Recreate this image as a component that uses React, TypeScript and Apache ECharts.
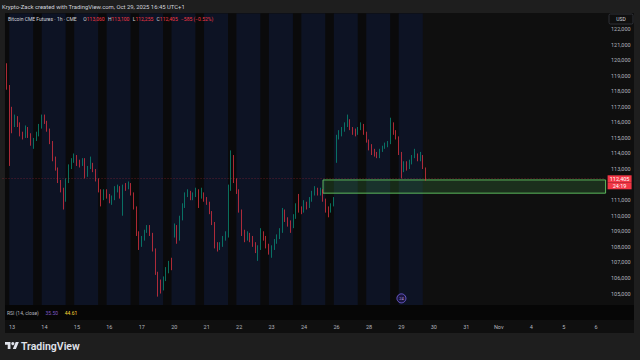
import React, { useEffect, useRef } from 'react';
import * as echarts from 'echarts';

// ---------- data ----------
const dayLabels = ['13', '14', '15', '16', '17', '20', '21', '22', '23', '24', '26', '28', '29', '30', '31', 'Nov', '4', '5', '6'];
const LEAD_BARS = 3; // bars before the first day label
const BARS_PER_DAY = 12; // 2-hour bars
const TOTAL_BARS = 223;
const FIRST_BAR = 1;

// [open, close, low, high]
const candles: number[][] = [
  [119600, 118300, 118100, 119800], [118300, 116800, 113200, 118400], [116800, 115800, 115300, 117000], [115800, 116200, 115700, 116500],
  [116200, 115900, 115700, 116400], [115900, 115300, 115100, 116000], [115300, 115100, 114900, 115400], [115100, 115600, 115000, 115800],
  [115600, 115200, 115000, 115700], [115200, 114700, 114500, 115300], [114700, 114900, 114300, 115000], [114900, 115200, 114800, 115400],
  [115200, 115700, 115100, 115900], [115700, 116300, 115600, 116500], [116300, 116000, 115900, 116500], [116000, 115500, 115400, 116100],
  [115500, 114700, 114600, 115600], [114700, 113700, 113500, 114800], [113700, 113000, 112900, 113800], [113000, 112200, 112100, 113100],
  [112200, 111700, 111500, 112300], [111700, 111100, 110400, 111800], [111100, 112200, 110900, 112400], [112200, 113100, 112100, 113300],
  [113100, 113500, 113000, 113700], [113500, 113800, 113400, 114000], [113800, 113400, 113200, 113900], [113400, 113300, 113100, 113600],
  [113300, 113600, 113200, 113700], [113600, 112600, 112400, 113700], [112600, 113100, 112500, 113200], [113100, 113300, 113000, 113800],
  [113300, 112900, 112800, 113400], [112900, 112300, 112200, 113000], [112300, 111600, 111500, 112400], [111600, 111100, 110600, 111700],
  [111100, 111500, 111000, 111700], [111500, 111300, 111100, 111700], [111300, 111000, 110800, 111400], [111000, 111100, 110700, 111300],
  [111100, 111700, 111000, 111900], [111700, 111800, 111500, 112000], [111800, 111300, 111100, 111900], [111300, 111900, 110000, 112000],
  [111900, 111800, 111600, 112100], [111800, 112000, 111700, 112200], [112000, 111400, 111300, 112100], [111400, 110500, 110400, 111500],
  [110500, 108900, 108700, 110600], [108900, 108200, 107800, 109000], [108200, 108500, 108000, 108700], [108500, 109000, 108400, 109100],
  [109000, 109300, 108900, 109400], [109300, 108800, 108700, 109400], [108800, 107800, 107700, 108900], [107800, 106300, 106200, 107900],
  [106300, 105400, 104800, 106400], [105400, 105300, 105000, 105900], [105300, 105900, 105200, 106100], [105900, 106400, 105800, 106700],
  [106400, 106900, 106300, 107100], [106900, 106700, 106500, 107300], [108700, 109300, 108600, 109500], [109300, 108500, 108200, 109400],
  [108500, 109800, 108400, 110000], [109800, 110600, 109700, 110800], [110600, 111300, 110500, 111500], [111300, 111500, 111200, 111700],
  [111500, 111200, 111000, 111600], [111200, 111300, 111000, 111500], [111300, 111500, 111200, 111800], [111500, 111200, 110500, 111700],
  [111200, 111400, 111100, 111800], [111400, 111100, 110900, 111500], [111100, 110800, 110700, 111200], [110800, 110200, 110100, 110900],
  [110200, 109500, 109400, 110300], [109500, 108100, 107900, 109600], [108100, 107900, 107700, 108300], [107900, 108100, 107800, 108300],
  [108100, 108500, 108000, 108700], [108500, 108700, 108400, 109000], [108700, 111800, 108600, 112000], [111800, 113800, 111600, 114200],
  [113800, 112300, 112100, 113900], [112300, 111600, 111400, 112400], [111600, 110300, 110200, 111700], [110300, 108900, 108700, 110400],
  [108900, 108500, 108300, 109100], [108500, 108800, 108400, 109000], [108800, 108500, 108300, 108900], [108500, 108200, 108000, 108700],
  [108200, 107800, 107600, 108300], [107800, 107900, 107100, 108100], [107900, 108900, 107800, 109200], [108900, 108600, 108400, 109000],
  [108600, 108100, 107900, 108700], [108100, 107700, 107500, 108200], [107700, 107900, 107300, 108100], [107900, 108300, 107800, 108500],
  [108300, 108600, 108200, 108800], [108600, 109000, 108500, 109200], [109000, 110300, 108900, 110500], [110300, 109800, 109600, 110400],
  [109800, 109500, 109300, 109900], [109500, 109300, 108900, 109700], [109300, 109900, 109200, 110100], [109900, 110600, 109800, 110800],
  [110600, 110400, 110200, 111400], [110400, 110300, 110100, 110600], [110300, 110800, 110200, 111000], [110800, 110600, 110400, 110900],
  [110600, 111000, 110500, 111200], [111000, 111400, 110900, 111600], [111400, 111700, 111300, 111900], [111700, 111500, 111300, 111800],
  [111500, 111600, 111300, 111800], [111600, 111000, 110900, 111700], [111000, 110400, 110200, 111100], [110400, 110300, 109900, 110600],
  [110300, 110700, 110200, 110800], [110700, 111000, 110600, 111200], [113600, 115000, 113400, 115200], [115000, 115300, 114900, 115500],
  [115300, 115500, 115100, 115700], [115500, 115800, 115400, 116000], [115800, 116100, 115700, 116500], [116100, 115600, 115500, 116200],
  [115600, 115400, 115200, 115700], [115400, 115300, 115100, 115600], [115300, 115600, 115200, 115700], [115600, 115800, 115500, 116000],
  [115800, 115300, 115200, 115900], [115300, 114800, 114700, 115400], [114800, 114400, 114200, 114900], [114400, 114100, 113900, 114600],
  [114100, 114000, 113800, 114300], [114000, 113800, 113700, 114100], [113800, 114200, 113700, 114300], [114200, 114400, 114100, 114500],
  [114400, 114500, 114300, 114700], [114500, 114700, 114400, 114800], [114700, 115900, 114600, 116300], [115900, 115400, 115200, 116000],
  [115400, 115000, 114900, 115500], [115000, 114000, 113900, 115100], [114000, 112900, 112400, 114100], [112900, 113400, 112800, 113500],
  [113400, 113100, 112900, 113500], [113100, 113400, 113000, 113600], [113400, 113800, 113300, 113900], [113800, 113900, 113700, 114300],
  [113900, 113600, 113500, 114000], [113600, 113800, 113500, 114100], [113800, 113060, 113000, 113900], [113060, 112405, 112255, 113100],
];

const zoneHigh = 112300;
const zoneLow = 111450;
const zoneStartBar = 118.5;
const lastPrice = 112405;
const lastPriceText = '112,405';
const countdownText = '24:19';
const eventBar = 147;
const eventPrice = 104690;
const eventText = '24';
const yMin = 104000;
const yMax = 123000;
const yStep = 1000;
const hiddenTicks = [104000, 112000, 123000]; // hidden behind the pane edge / price tag
const ohlcKeys = ['O', 'H', 'L', 'C'];
const ohlcValues = ['113,060', '113,100', '112,255', '112,405'];
const changeText = '\u2212585 (\u22120.52%)';
const rsiValues = ['35.50', '44.61'];

// ---------- helpers ----------
const FONT = 'Roboto, "Noto Sans", sans-serif';
const NAVY = '#0d1324';
const STRIP = '#0a0a0b';
const UP = '#089981';
const DOWN = '#f23645';

let logoRegistered = false;
function registerLogo() {
  if (logoRegistered) return;
  logoRegistered = true;
  echarts.graphic.registerShape(
    'tvlogo',
    echarts.graphic.extendPath('M14 22H7V11H0V4h14v18zM28 22h-8l7.5-18h8L28 22z', {}) as any
  );
}

function isDayStart(i: number) {
  const d = i - LEAD_BARS;
  return d >= 0 && d % BARS_PER_DAY === 0 && d / BARS_PER_DAY < dayLabels.length;
}

function buildOption() {
  const categories = Array.from({ length: TOTAL_BARS }, (_, i) => 'b' + i);
  const seriesData: any[] = Array.from({ length: TOTAL_BARS }, () => '-');
  candles.forEach((c, i) => {
    seriesData[FIRST_BAR + i] = c;
  });
  const lastBar = FIRST_BAR + candles.length; // right edge of data (value axis)

  // session background bands
  const bands: any[] = [];
  const daysWithData = Math.floor((lastBar - LEAD_BARS) / BARS_PER_DAY) + 1;
  for (let k = 0; k < daysWithData; k++) {
    const start = LEAD_BARS + k * BARS_PER_DAY;
    const stripFrom = Math.max(0.9, start - 3.6);
    const stripTo = start - 0.5;
    bands.push([{ xAxis: stripFrom, itemStyle: { color: STRIP } }, { xAxis: stripTo }]);
    const navyTo = Math.min(lastBar + 0.4, start + BARS_PER_DAY - 3.6);
    bands.push([{ xAxis: stripTo, itemStyle: { color: NAVY } }, { xAxis: navyTo }]);
  }

  const legendText =
    '{t|Bitcoin CME Futures \u00b7 1h \u00b7 CME}  ' +
    ohlcKeys.map((k, i) => `{k|${k}}{v|${ohlcValues[i]}}`).join(' ') +
    ` {v|${changeText}}`;

  const logoScale = 0.39;

  return {
    animation: false,
    backgroundColor: '#1e1e1e',
    textStyle: { fontFamily: FONT },
    grid: { left: 2.54, right: 34.4, top: 13.44, bottom: 50.9, show: false },
    xAxis: [
      {
        type: 'category',
        data: categories,
        boundaryGap: true,
        axisLine: { show: false },
        axisTick: { show: false },
        splitLine: { show: false },
        axisLabel: {
          interval: (i: number) => isDayStart(i),
          formatter: (_v: string, i: number) => (isDayStart(i) ? dayLabels[(i - LEAD_BARS) / BARS_PER_DAY] : ''),
          color: '#b2b5be',
          fontSize: 5.5,
          margin: 15,
          fontFamily: FONT,
        },
      },
      { type: 'value', min: 0, max: TOTAL_BARS, show: false, gridIndex: 0 },
    ],
    yAxis: {
      type: 'value',
      position: 'right',
      min: yMin,
      max: yMax,
      interval: yStep,
      axisLine: { show: false },
      axisTick: { show: false },
      splitLine: { show: false },
      axisLabel: {
        color: '#b2b5be',
        fontSize: 5.5,
        align: 'right',
        margin: 25,
        fontFamily: FONT,
        formatter: (v: number) => (hiddenTicks.includes(v) ? '' : v.toLocaleString('en-US')),
      },
    },
    series: [
      {
        type: 'line',
        xAxisIndex: 1,
        yAxisIndex: 0,
        data: [],
        silent: true,
        markArea: { silent: true, data: bands },
      },
      {
        type: 'line',
        xAxisIndex: 1,
        yAxisIndex: 0,
        data: [],
        silent: true,
        markArea: {
          silent: true,
          z: 3,
          data: [
            [
              {
                xAxis: zoneStartBar,
                yAxis: zoneHigh,
                itemStyle: { color: 'rgba(76,175,80,0.2)', borderColor: '#5cb85c', borderWidth: 1 },
              },
              { xAxis: TOTAL_BARS, yAxis: zoneLow },
            ],
          ],
        },
      },
      {
        type: 'candlestick',
        xAxisIndex: 0,
        yAxisIndex: 0,
        data: seriesData,
        barWidth: 1.3,
        z: 4,
        itemStyle: { color: UP, color0: DOWN, borderColor: UP, borderColor0: DOWN, borderWidth: 0.7 },
        markLine: {
          silent: true,
          symbol: 'none',
          z: 6,
          lineStyle: { color: 'rgba(242,54,69,0.45)', type: [1, 2], width: 0.8 },
          label: {
            show: true,
            position: 'end',
            distance: 2,
            formatter: `{s| }\n{a|${lastPriceText}}\n{b|${countdownText}}`,
            rich: {
              s: { height: 8, lineHeight: 8, fontSize: 1 },
              a: { backgroundColor: DOWN, color: '#ffffff', width: 24, align: 'center', fontSize: 5.5, lineHeight: 7, height: 7, fontFamily: FONT },
              b: { backgroundColor: DOWN, color: '#ffffff', width: 24, align: 'center', fontSize: 5.5, lineHeight: 7, height: 7, fontFamily: FONT },
            },
          },
          data: [{ yAxis: lastPrice }],
        },
        markPoint: {
          silent: true,
          data: [
            {
              coord: [eventBar, eventPrice],
              symbol: 'circle',
              symbolSize: 9,
              itemStyle: { color: '#1c1640', borderColor: '#6a5acd', borderWidth: 1 },
              label: { show: true, position: 'inside', formatter: eventText, color: '#b39ddb', fontSize: 4, fontFamily: FONT },
            },
          ],
        },
      },
    ],
    graphic: [
      { type: 'rect', z: -10, silent: true, shape: { x: 5, y: 13, width: 629, height: 320 }, style: { fill: '#0f0f0f' } },
      { type: 'rect', z: 50, silent: true, shape: { x: 5, y: 305, width: 629, height: 15 }, style: { fill: '#060606' } },
      {
        type: 'text', z: 51, silent: true, x: 7, y: 312.5,
        style: {
          text: `{g|RSI (14, close)}  {p|${rsiValues[0]}}  {y|${rsiValues[1]}}`,
          verticalAlign: 'middle',
          rich: {
            g: { fill: '#b2b5be', fontSize: 5, fontFamily: FONT },
            p: { fill: '#7e57c2', fontSize: 5, fontFamily: FONT },
            y: { fill: '#fdd835', fontSize: 5, fontFamily: FONT },
          },
        },
      },
      {
        type: 'text', z: 51, silent: true, x: 2, y: 6.5,
        style: {
          text: 'Krypto-Zack created with TradingView.com, Oct 29, 2025 16:45 UTC+1',
          fill: '#d1d4dc', fontSize: 5.9, fontFamily: FONT, verticalAlign: 'middle',
        },
      },
      {
        type: 'text', z: 51, silent: true, x: 8, y: 19,
        style: {
          text: legendText,
          verticalAlign: 'middle',
          rich: {
            t: { fill: '#d1d4dc', fontSize: 5, fontFamily: FONT },
            k: { fill: '#d1d4dc', fontSize: 5, fontFamily: FONT },
            v: { fill: DOWN, fontSize: 5, fontFamily: FONT },
          },
        },
      },
      {
        type: 'rect', z: 51, silent: true, shape: { x: 609, y: 14, width: 24, height: 10, r: 1.5 },
        style: { fill: '#0f0f0f', stroke: '#434651', lineWidth: 0.6 },
      },
      {
        type: 'text', z: 52, silent: true, x: 621, y: 19,
        style: { text: 'USD', fill: '#d1d4dc', fontSize: 5, fontFamily: FONT, align: 'center', verticalAlign: 'middle' },
      },
      {
        type: 'tvlogo', z: 51, silent: true, x: 5, y: 340.5, scaleX: logoScale, scaleY: logoScale,
        style: { fill: '#e0e3eb' },
      },
      {
        type: 'circle', z: 51, silent: true, shape: { cx: 5 + 20 * logoScale, cy: 340.5 + 8 * logoScale, r: 4 * logoScale },
        style: { fill: '#e0e3eb' },
      },
      {
        type: 'text', z: 51, silent: true, x: 21, y: 346,
        style: { text: 'TradingView', fill: '#e0e3eb', fontSize: 10.5, fontWeight: 600, fontFamily: FONT, verticalAlign: 'middle' },
      },
    ],
  };
}

export default function App() {
  const ref = useRef<HTMLDivElement>(null);
  useEffect(() => {
    if (!ref.current) return;
    registerLogo();
    const chart = echarts.init(ref.current, null, { renderer: 'svg' });
    chart.setOption(buildOption() as any);
    return () => {
      chart.dispose();
    };
  }, []);
  return <div ref={ref} style={{ position: 'absolute', left: 0, top: 0, width: 640, height: 360 }} />;
}
